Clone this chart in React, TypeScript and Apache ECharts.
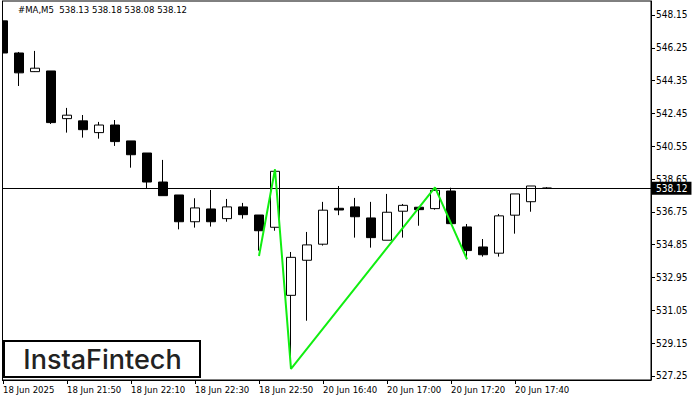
import { useEffect, useRef } from "react";
import * as echarts from "echarts";

// 35 real M5 candles + empty future slots
const categories = [
  "18 Jun 21:30", "18 Jun 21:35", "18 Jun 21:40", "18 Jun 21:45", "18 Jun 21:50",
  "18 Jun 21:55", "18 Jun 22:00", "18 Jun 22:05", "18 Jun 22:10", "18 Jun 22:15",
  "18 Jun 22:20", "18 Jun 22:25", "18 Jun 22:30", "18 Jun 22:35", "18 Jun 22:40",
  "18 Jun 22:45", "18 Jun 22:50", "18 Jun 22:55", "18 Jun 23:00", "20 Jun 16:35",
  "20 Jun 16:40", "20 Jun 16:45", "20 Jun 16:50", "20 Jun 16:55", "20 Jun 17:00",
  "20 Jun 17:05", "20 Jun 17:10", "20 Jun 17:15", "20 Jun 17:20", "20 Jun 17:25",
  "20 Jun 17:30", "20 Jun 17:35", "20 Jun 17:40", "20 Jun 17:45", "20 Jun 17:50",
  "20 Jun 17:55", "20 Jun 18:00", "20 Jun 18:05", "20 Jun 18:10", "20 Jun 18:15",
  "20 Jun 18:20",
];

const opens = [
  547.81, 545.95, 544.87, 544.91, 542.15, 542.02, 541.34, 541.78, 540.86, 540.16,
  538.48, 537.73, 536.18, 536.92, 536.36, 537.04, 536.57, 535.86, 531.92, 533.95,
  534.88, 536.96, 537.04, 536.40, 535.11, 536.79, 537.02, 536.94, 537.96, 535.88,
  534.72, 534.36, 536.56, 537.34, 538.13,
];
const closes = [
  545.95, 544.80, 545.07, 541.92, 542.35, 541.51, 541.78, 540.82, 540.06, 538.48,
  537.69, 536.18, 536.98, 536.18, 537.04, 536.59, 535.66, 539.10, 534.12, 534.84,
  536.85, 536.86, 536.47, 535.26, 536.73, 537.13, 536.88, 538.00, 536.07, 534.51,
  534.27, 536.52, 537.79, 538.25, 538.12,
];
const lows = [
  545.72, 544.04, 544.85, 541.84, 541.34, 541.05, 540.99, 540.57, 539.31, 538.10,
  537.69, 535.74, 535.84, 535.90, 536.18, 536.36, 534.51, 535.66, 527.66, 530.45,
  534.80, 536.56, 535.26, 534.68, 535.11, 535.26, 535.95, 536.88, 536.07, 534.01,
  534.16, 534.16, 535.49, 536.76, 538.08,
];
const highs = [
  547.81, 546.01, 546.07, 544.91, 542.77, 542.36, 541.96, 542.07, 540.86, 540.16,
  539.76, 537.73, 537.54, 538.02, 537.50, 537.27, 536.57, 539.10, 534.43, 535.59,
  537.33, 538.25, 537.56, 537.33, 537.79, 537.21, 537.04, 538.17, 538.15, 536.05,
  535.18, 536.63, 537.79, 538.25, 538.18,
];

// Pattern zigzag (index on category axis, price)
const zigzagIdx = [16, 17, 18, 27, 29];
const zigzagVals = [534.2, 539.22, 527.66, 538.17, 534.01];

const xTickIdx = [0, 4, 8, 12, 16, 20, 24, 28, 32];
const xTickLabels = [
  "18 Jun 2025", "18 Jun 21:50", "18 Jun 22:10", "18 Jun 22:30", "18 Jun 22:50",
  "20 Jun 16:40", "20 Jun 17:00", "20 Jun 17:20", "20 Jun 17:40",
];
const yTicks = [
  527.25, 529.15, 531.05, 532.95, 534.85, 536.75, 538.65, 540.55, 542.45, 544.35,
  546.25, 548.15,
];
const lastPrice = 538.12;
const headerText = "#MA,M5  538.13 538.18 538.08 538.12";
const logoText = "InstaFintech";

const FONT = "'DejaVu Sans Condensed', 'DejaVu Sans', sans-serif";
// the chart div starts 5px left of the page so that the first candle is cut by the frame
const SHIFT = 5;

export default function App() {
  const ref = useRef<HTMLDivElement>(null);

  useEffect(() => {
    if (!ref.current) return;
    const chart = echarts.init(ref.current, undefined, { renderer: "svg" });

    const candleData = opens.map((o, i) => [o, closes[i], lows[i], highs[i]]);
    const zigzag = categories.map((_, i) => {
      const k = zigzagIdx.indexOf(i);
      return k >= 0 ? zigzagVals[k] : null;
    });
    const showTick = (i: number) => xTickIdx.indexOf(i) >= 0;

    chart.setOption({
      animation: false,
      backgroundColor: "#fff",
      grid: {
        left: 0,
        right: 49,
        top: 1,
        bottom: 20,
        show: true,
        borderColor: "#000",
        borderWidth: 1,
        backgroundColor: "#fff",
      },
      xAxis: {
        type: "category",
        data: categories,
        boundaryGap: true,
        axisLine: { show: true, lineStyle: { color: "#000", width: 1 } },
        axisTick: {
          show: true,
          alignWithLabel: true,
          length: 4,
          interval: (i: number) => showTick(i),
          lineStyle: { color: "#000" },
        },
        axisLabel: {
          interval: (i: number) => showTick(i),
          formatter: (_v: string, i: number) => {
            const k = xTickIdx.indexOf(i);
            return k >= 0 ? xTickLabels[k] : "";
          },
          align: "left",
          margin: 4,
          color: "#000",
          fontSize: 9.5,
          fontFamily: FONT,
        },
        splitLine: { show: false },
      },
      yAxis: {
        type: "value",
        position: "right",
        min: 527.018,
        max: 548.96,
        scale: true,
        splitLine: { show: false },
        axisLine: { show: true, lineStyle: { color: "#000", width: 1 } },
        axisTick: {
          show: true,
          length: 4,
          customValues: yTicks,
          lineStyle: { color: "#000" },
        },
        axisLabel: {
          customValues: yTicks,
          formatter: (v: number) => v.toFixed(2),
          color: "#000",
          fontSize: 10,
          fontFamily: FONT,
          margin: 5,
        },
      },
      series: [
        {
          type: "candlestick",
          data: candleData,
          barWidth: 10,
          itemStyle: {
            color: "#fff",
            color0: "#000",
            borderColor: "#000",
            borderColor0: "#000",
            borderWidth: 1,
          },
          markLine: {
            silent: true,
            symbol: ["none", "none"],
            data: [{ yAxis: lastPrice }],
            lineStyle: { color: "#000", width: 1, type: "solid" },
            label: {
              show: true,
              position: "end",
              distance: 1,
              formatter: lastPrice.toFixed(2),
              color: "#fff",
              backgroundColor: "#000",
              padding: [2, 4, 1, 4],
              fontSize: 10,
              fontFamily: FONT,
            },
          },
        },
        {
          type: "line",
          data: zigzag,
          connectNulls: true,
          symbol: "none",
          lineStyle: { color: "#11ee11", width: 2 },
          z: 5,
        },
      ],
      graphic: [
        {
          type: "line",
          shape: { x1: 2.5 + SHIFT, y1: 1, x2: 2.5 + SHIFT, y2: 380 },
          style: { stroke: "#000", lineWidth: 1 },
          z: 10,
        },
        {
          type: "rect",
          shape: { x: 0, y: 0, width: 2 + SHIFT, height: 381 },
          style: { fill: "#fff" },
          z: 9,
        },
        {
          type: "text",
          left: 18 + SHIFT,
          top: 4,
          style: {
            text: headerText,
            fill: "#000",
            fontSize: 9.5,
            fontFamily: FONT,
          },
          z: 10,
        },
        {
          type: "rect",
          shape: { x: 4 + SHIFT, y: 341, width: 196, height: 36 },
          style: { fill: "#fff", stroke: "#000", lineWidth: 2 },
          z: 20,
        },
        {
          type: "text",
          x: 102.5 + SHIFT,
          y: 359,
          style: {
            text: logoText,
            fill: "#222",
            fontSize: 27,
            fontWeight: 500,
            fontFamily: "Inter, 'Noto Sans', sans-serif",
            align: "center",
            verticalAlign: "middle",
          },
          z: 21,
        },
      ],
    });

    return () => chart.dispose();
  }, []);

  return (
    <div
      ref={ref}
      style={{ position: "absolute", left: -SHIFT, top: 0, width: 700 + SHIFT, height: 400 }}
    />
  );
}
